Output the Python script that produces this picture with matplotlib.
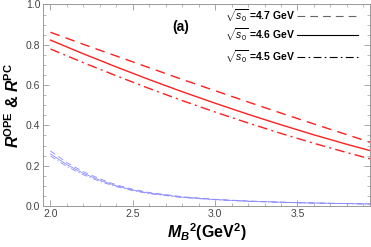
import numpy as np
import matplotlib
matplotlib.use("Agg")
import matplotlib.pyplot as plt
from matplotlib.ticker import MultipleLocator

plt.rcParams['font.family'] = ['Liberation Sans', 'DejaVu Sans']
plt.rcParams['mathtext.fontset'] = 'custom'
plt.rcParams['mathtext.rm'] = 'Liberation Sans'
plt.rcParams['mathtext.it'] = 'Liberation Sans:italic'
plt.rcParams['mathtext.bf'] = 'Liberation Sans:bold'
plt.rcParams['mathtext.bfit'] = 'Liberation Sans:bold:italic'

# red curves: R^PC for three thresholds
mb2_red = [2.0, 2.2, 2.4, 2.6, 2.8, 3.0, 3.2, 3.4, 3.6, 3.8, 3.95]
pc_47 = [0.862, 0.802, 0.744, 0.686, 0.628, 0.572, 0.516, 0.461, 0.407, 0.354, 0.314]
pc_46 = [0.823, 0.755, 0.690, 0.627, 0.567, 0.510, 0.455, 0.403, 0.353, 0.306, 0.273]
pc_45 = [0.779, 0.711, 0.646, 0.583, 0.523, 0.466, 0.412, 0.360, 0.311, 0.265, 0.232]

# blue curves: R^OPE
mb2_blue = [2.0, 2.05, 2.1, 2.2, 2.3, 2.4, 2.5, 2.6, 2.8, 3.0, 3.2, 3.5, 3.95]
ope_47 = [0.273, 0.245, 0.215, 0.170, 0.135, 0.105, 0.083, 0.067, 0.046, 0.033, 0.025, 0.017, 0.010]
ope_46 = [0.258, 0.232, 0.205, 0.162, 0.128, 0.100, 0.079, 0.064, 0.044, 0.032, 0.024, 0.016, 0.010]
ope_45 = [0.248, 0.222, 0.196, 0.155, 0.122, 0.096, 0.076, 0.061, 0.042, 0.031, 0.023, 0.016, 0.009]

labels = ['4.7', '4.6', '4.5']
styles = [(0, (7, 4.5)), '-', (0, (7, 3, 1.5, 3))]

fig = plt.figure(figsize=(3.71, 2.47), dpi=100)
ax = fig.add_axes([0.116, 0.166, 0.881, 0.816])

red = '#ff2020'
blue = '#8a8aff'
for y, ls in zip([pc_47, pc_46, pc_45], styles):
    ax.plot(mb2_red, y, color=red, lw=1.0, linestyle=ls)
for y, ls in zip([ope_47, ope_46, ope_45], styles):
    ax.plot(mb2_blue, y, color=blue, lw=0.6, linestyle=ls)

ax.set_xlim(1.955, 3.94)
ax.set_ylim(0.0, 1.0)
ax.xaxis.set_major_locator(MultipleLocator(0.5))
ax.xaxis.set_minor_locator(MultipleLocator(0.1))
ax.yaxis.set_major_locator(MultipleLocator(0.2))
ax.yaxis.set_minor_locator(MultipleLocator(0.05))
ax.xaxis.set_major_formatter(plt.FormatStrFormatter('%.1f'))
ax.yaxis.set_major_formatter(plt.FormatStrFormatter('%.1f'))
ax.tick_params(which='both', direction='in', top=True, right=True,
               color='#999999', labelcolor='#444444', labelsize=7.5, pad=2)
ax.tick_params(which='major', length=4, width=0.6)
ax.tick_params(which='minor', length=2.5, width=0.5)
for s in ax.spines.values():
    s.set_color('#999999')
    s.set_linewidth(0.7)

ax.set_xlabel(r'$\mathbfit{M}_{\mathbfit{B}}{}^{\mathbf{2}}$(GeV$^{\mathbf{2}}$)',
              fontsize=11.5, fontweight='bold', labelpad=2)
ax.set_ylabel(r'$\mathbfit{R}^{\mathbf{OPE}}$ & $\mathbfit{R}^{\mathbf{PC}}$',
              fontsize=11.5, fontweight='bold', labelpad=3)

ax.text(0.422, 0.886, '(a)', transform=ax.transAxes, fontsize=10,
        fontweight='bold', ha='center', va='center')

# legend drawn by hand, text first then line sample
rows = [0.944, 0.849, 0.741]
for lab, ls, yr in zip(labels, styles, rows):
    ax.plot([0.777, 0.963], [yr, yr], transform=ax.transAxes,
            color='#666666' if lab == '4.7' else 'black', lw=0.8, linestyle=ls)
    ax.text(0.771, yr, r'$\sqrt{s_0}\;$=' + lab + ' GeV', transform=ax.transAxes,
            fontsize=7.5, fontweight='bold', ha='right', va='center')

fig.savefig('out.png', dpi=100)
